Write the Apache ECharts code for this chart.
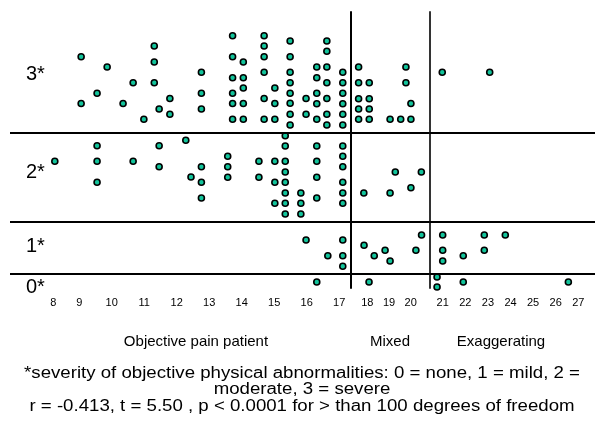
<!DOCTYPE html>
<html><head><meta charset="utf-8">
<script src="https://cdn.jsdelivr.net/npm/echarts@6/dist/echarts.min.js"></script>
<style>html,body{margin:0;padding:0;background:#fff}#c{width:595px;height:427px}</style>
</head><body><div id="c"></div>
<script>
// ---- data ----
const groups = ['Objective pain patient', 'Mixed', 'Exaggerating'];
const severityLabels = ['0*', '1*', '2*', '3*'];
const xTickLabels = [
  ['8','9','10','11','12','13','14','15','16','17'],
  ['18','19','20'],
  ['21','22','23','24','25','26','27']
];
const xTickValues = [
  [8.2,9,10,11,12,13,14,15,16,17],
  [18,19,20],
  [21,22,23,24,25,26,27]
];
// points: [score, severity, stacking height inside the severity band]
const objective = [
  [9.06,3,7.6],[9.86,3,6.57],[11.31,3,8.67],[11.31,3,7.07],[10.66,3,5.0],[11.31,3,5.0],[9.55,3,3.95],
  [9.06,3,2.92],[10.35,3,2.92],[11.79,3,3.42],[11.46,3,2.37],[11.79,3,1.84],[10.99,3,1.34],
  [12.76,3,6.04],[12.76,3,3.95],[12.76,3,2.37],
  [13.72,3,9.7],[13.72,3,7.6],[13.72,3,5.5],[13.72,3,3.95],[13.72,3,2.92],[13.72,3,1.34],
  [14.05,3,7.07],[14.05,3,5.5],[14.05,3,4.47],[14.05,3,2.92],[14.05,3,1.34],
  [14.69,3,9.7],[14.69,3,8.67],[14.69,3,7.6],[14.69,3,6.04],[14.69,3,3.42],[14.69,3,1.34],
  [15.02,3,4.47],[15.02,3,2.92],[15.02,3,1.34],
  [15.49,3,9.17],[15.49,3,7.6],[15.49,3,6.04],[15.49,3,5.0],[15.49,3,3.94],[15.49,3,2.94],[15.49,3,1.84],[15.49,3,0.77],
  [15.98,3,3.42],[15.98,3,1.84],
  [16.31,3,6.57],[16.31,3,5.5],[16.31,3,3.94],[16.31,3,2.9],[16.31,3,1.34],
  [16.62,3,9.17],[16.62,3,8.14],[16.62,3,6.57],[16.62,3,5.0],[16.62,3,3.42],[16.62,3,1.84],[16.62,3,0.77],
  [17.11,3,6.04],[17.11,3,5.0],[17.11,3,3.94],[17.11,3,2.9],[17.11,3,1.84],[17.11,3,0.77],
  [8.25,2,6.04],[9.55,2,7.6],[9.55,2,6.04],[9.55,2,3.94],[10.66,2,6.04],[11.46,2,7.6],[11.46,2,5.5],
  [12.28,2,8.14],[12.44,2,4.47],
  [12.76,2,5.5],[12.76,2,3.94],[12.76,2,2.37],
  [13.57,2,6.54],[13.57,2,5.5],[13.57,2,4.44],
  [14.53,2,6.04],[14.53,2,4.44],
  [15.02,2,6.04],[15.02,2,3.94],[15.02,2,1.84],
  [15.34,2,8.6],[15.34,2,7.57],[15.34,2,6.04],[15.34,2,4.97],[15.34,2,3.94],[15.34,2,2.87],[15.34,2,1.84],[15.34,2,0.77],
  [15.82,2,2.87],[15.82,2,1.84],[15.82,2,0.77],
  [16.31,2,7.57],[16.31,2,6.04],[16.31,2,4.44],[16.31,2,2.37],
  [17.11,2,7.57],[17.11,2,6.54],[17.11,2,5.5],[17.11,2,3.94],[17.11,2,2.87],[17.11,2,1.84],
  [15.98,1,3.4],[16.65,1,1.83],[17.11,1,3.4],[17.11,1,1.83],[17.11,1,0.77],
  [16.31,0,0.6]
];
const mixed = [
  [17.60,3,6.57],[17.60,3,5.0],[17.60,3,3.4],[17.60,3,2.37],[17.60,3,1.34],
  [18.09,3,5.0],[18.09,3,3.4],[18.09,3,2.37],[18.09,3,1.34],
  [19.05,3,1.34],[19.54,3,1.34],[19.78,3,6.57],[19.78,3,5.0],[20.01,3,2.92],[20.01,3,1.34],
  [17.84,2,2.87],[19.05,2,2.87],[19.29,2,4.97],[20.01,2,3.4],[20.49,2,4.97],
  [17.85,1,2.87],[18.32,1,1.83],[18.82,1,2.37],[19.05,1,1.3],[20.24,1,2.37],[20.5,1,3.9],
  [18.08,0,0.6]
];
const exaggerating = [
  [20.98,3,6.04],[23.08,3,6.04],
  [21.0,1,3.9],[21.0,1,2.37],[21.0,1,1.3],[21.91,1,1.83],[22.84,1,3.9],[22.84,1,2.37],[23.77,1,3.9],
  [20.75,0,1.1],[20.75,0,0.1],[21.91,0,0.6],[26.56,0,0.6]
];
const footnote = [
  '*severity of objective physical abnormalities: 0 = none, 1 = mild, 2 =',
  'moderate, 3 = severe',
  'r = -0.413, t = 5.50 , p < 0.0001 for > than 100 degrees of freedom'
];

// ---- layout ----
const FONT = "'Liberation Sans', Arial, sans-serif";
const bandBottom = [0, 1.4, 6.63, 15.53];   // y-units where each severity band starts
const yMax = 27.6;
const sevLabelAt = [0.05, 4.2, 11.55, 21.35];
const cols = [
  { left: 10, width: 341, min: 6.871, max: 17.363 },
  { left: 351, width: 78.3, min: 17.249, max: 20.857 },
  { left: 429.3, width: 165.7, min: 20.407, max: 27.739 }
];
const groupData = [objective, mixed, exaggerating];

const grid = [], xAxis = [], yAxis = [], series = [];
cols.forEach((c, i) => {
  grid.push({ left: c.left, width: c.width, top: 12, height: 276 });
  xAxis.push({
    type: 'value', gridIndex: i, min: c.min, max: c.max,
    axisLine: { show: false }, axisTick: { show: false }, splitLine: { show: false },
    axisLabel: {
      customValues: xTickValues[i], margin: 9, color: '#000', fontSize: 11, fontFamily: FONT,
      formatter: v => {
        const k = xTickValues[i].findIndex(t => Math.abs(t - v) < 1e-6);
        return k >= 0 ? xTickLabels[i][k] : '';
      }
    }
  });
  yAxis.push({
    type: 'value', gridIndex: i, min: 0, max: yMax,
    axisLine: { show: i > 0, onZero: false, lineStyle: { color: i === 2 ? '#333' : '#000', width: 2 } },
    axisTick: { show: false }, splitLine: { show: false },
    axisLabel: i === 0 ? {
      inside: true, margin: 16, customValues: sevLabelAt, color: '#000', fontSize: 20, fontFamily: FONT,
      formatter: v => {
        const k = sevLabelAt.findIndex(t => Math.abs(t - v) < 1e-6);
        return k >= 0 ? severityLabels[k] : '';
      }
    } : { show: false }
  });
  series.push({
    type: 'scatter', name: groups[i], xAxisIndex: i, yAxisIndex: i, clip: false,
    symbolSize: 6,
    itemStyle: { color: '#12c49b', borderColor: '#000', borderWidth: 1.6, opacity: 1 },
    data: groupData[i].map(p => [p[0], bandBottom[p[1]] + p[2]]),
    markLine: {
      silent: true, symbol: ['none', 'none'], label: { show: false },
      lineStyle: { color: '#000', width: 2, type: 'solid' },
      emphasis: { disabled: true },
      data: [{ yAxis: bandBottom[1] }, { yAxis: bandBottom[2] }, { yAxis: bandBottom[3] }]
    }
  });
});

const groupLabelX = [196, 390, 501];
const graphic = groups.map((g, i) => ({
  type: 'text', x: groupLabelX[i], y: 342,
  style: { text: g, align: 'center', verticalAlign: 'middle', font: '15px ' + FONT, fill: '#000' }
}));
graphic.push({
  type: 'text', x: 302, y: 390, scaleX: 1.165,
  style: { text: footnote.join('\n'), align: 'center', verticalAlign: 'middle', lineHeight: 16.5,
           font: '16px ' + FONT, fill: '#000' }
});

const chart = echarts.init(document.getElementById('c'), null, { renderer: 'canvas' });
chart.setOption({ animation: false, grid, xAxis, yAxis, series, graphic });
</script></body></html>
